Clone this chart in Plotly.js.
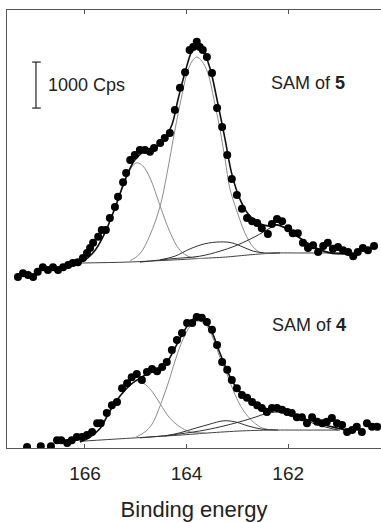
<!DOCTYPE html>
<html>
<head>
<meta charset="utf-8">
<script src="https://cdn.plot.ly/plotly-3.0.1.min.js"></script>
<style>html,body{margin:0;padding:0;background:#fff;}#chart{width:381px;height:523px;}</style>
</head>
<body>
<div id="chart"></div>
<script>
// ---------- measured data: SAM of 5 (upper, offset) ----------
const upperBE = [167.32,167.22,167.12,167.02,166.93,166.83,166.73,166.63,166.53,166.43,166.33,166.24,166.14,166.04,165.96,165.90,165.84,165.74,165.67,165.59,165.51,165.41,165.35,165.25,165.19,165.11,165.02,164.92,164.82,164.72,164.64,164.52,164.43,164.33,164.23,164.13,164.03,163.94,163.87,163.80,163.74,163.68,163.60,163.50,163.40,163.30,163.20,163.11,163.01,162.91,162.81,162.71,162.61,162.52,162.40,162.32,162.22,162.12,162.00,161.91,161.81,161.71,161.61,161.51,161.41,161.31,161.22,161.12,161.02,160.92,160.82,160.72,160.63,160.53,160.43,160.31];
const upperCps = [3720,3800,3760,3720,3830,3930,3870,3930,3870,3930,3980,4020,4040,4130,4240,4350,4460,4590,4740,4740,5000,5240,5460,5780,5980,6260,6370,6480,6480,6440,6520,6630,6740,6850,7350,7830,8170,8650,8720,8830,8720,8650,8500,8150,7390,6980,6370,5850,5500,5200,5000,4930,4890,4780,4650,4870,4980,4930,4780,4670,4670,4460,4350,4410,4260,4390,4460,4330,4370,4300,4260,4170,4260,4350,4300,4390];

// fit of SAM of 5
const upperFitBE  = [166.16,166.00,165.80,165.61,165.41,165.21,165.02,164.82,164.62,164.52,164.43,164.29,164.17,164.03,163.89,163.80,163.68,163.54,163.40,163.24,163.11,162.95,162.79,162.59,162.40,162.22,162.02,161.83,161.63,161.43,161.18,160.88];
const upperFitCps = [4020,4090,4300,4670,5220,5830,6260,6460,6540,6610,6720,7020,7570,8170,8650,8780,8650,8260,7570,6700,5960,5410,5090,4890,4830,4850,4760,4610,4460,4330,4240,4220];
const upperBaseBE  = [166.16,165.21,164.23,163.74,163.24,162.75,162.26,161.77,160.98];
const upperBaseCps = [4020,4040,4090,4120,4150,4200,4240,4240,4240];
const upperP1BE  = [166.16,166.00,165.80,165.61,165.41,165.21,165.09,164.98,164.86,164.72,164.52,164.33,164.13,163.93,163.64];
const upperP1Cps = [4020,4090,4300,4670,5200,5800,6090,6200,6130,5870,5260,4700,4300,4150,4120];
const upperP2BE  = [165.11,164.92,164.72,164.52,164.39,164.23,164.11,163.99,163.89,163.80,163.70,163.58,163.46,163.34,163.24,163.15,163.05,162.95,162.85,162.69,162.52,162.26];
const upperP2Cps = [4070,4220,4630,5260,5940,6910,7570,8150,8410,8500,8410,8150,7570,6910,6260,5650,5280,4960,4670,4370,4240,4240];
const upperP3BE  = [164.52,164.23,163.93,163.64,163.34,163.11,162.89,162.69,162.46,162.16];
const upperP3Cps = [4090,4170,4330,4440,4480,4460,4370,4280,4240,4240];
const upperP4BE  = [164.92,164.33,163.74,163.34,163.05,162.75,162.56,162.36,162.22,162.06,161.87,161.67,161.47,161.28,161.08,160.88];
const upperP4Cps = [4040,4110,4170,4280,4390,4540,4650,4780,4850,4780,4650,4500,4370,4280,4240,4240];

// ---------- measured data: SAM of 4 (lower) ----------
const lowerBE = [167.14,166.87,166.67,166.55,166.47,166.35,166.26,166.16,166.06,165.96,165.86,165.76,165.69,165.57,165.47,165.37,165.27,165.17,165.08,164.98,164.88,164.78,164.68,164.58,164.48,164.39,164.29,164.19,164.09,163.99,163.89,163.80,163.70,163.60,163.50,163.40,163.30,163.20,163.11,163.01,162.91,162.81,162.71,162.61,162.52,162.42,162.32,162.22,162.12,162.02,161.93,161.83,161.73,161.63,161.53,161.43,161.33,161.24,161.14,161.04,160.94,160.84,160.74,160.65,160.55,160.45,160.35,160.25];
const lowerCps = [20,40,40,170,170,110,170,240,240,280,350,540,540,760,930,1000,1300,1410,1540,1610,1480,1650,1720,1670,1760,1870,2130,2350,2500,2720,2720,2850,2830,2740,2570,2240,1870,1700,1480,1300,1150,1090,1000,930,870,780,870,870,830,780,760,670,670,540,670,570,540,570,650,540,500,350,390,460,350,540,460,460];

// fit of SAM of 4
const lowerFitBE  = [166.10,165.90,165.70,165.51,165.31,165.11,164.92,164.72,164.52,164.37,164.23,164.07,163.93,163.80,163.66,163.52,163.38,163.24,163.09,162.91,162.71,162.52,162.32,162.12,161.93,161.73,161.53,161.28,161.02,160.88];
const lowerFitCps = [130,240,430,800,1130,1370,1520,1630,1720,1890,2170,2500,2740,2850,2780,2570,2170,1780,1430,1170,1000,890,830,800,740,650,590,500,430,390];
const lowerBaseBE  = [166.04,165.31,164.72,164.13,163.54,162.95,162.36,161.77,160.98];
const lowerBaseCps = [150,200,240,280,330,370,390,390,390];
const lowerP1BE  = [166.04,165.86,165.70,165.51,165.31,165.11,164.96,164.80,164.66,164.52,164.33,164.13,163.93,163.64];
const lowerP1Cps = [150,260,430,800,1130,1370,1460,1370,1200,960,650,460,350,330];
const lowerP2BE  = [165.02,164.82,164.68,164.48,164.33,164.19,164.03,163.89,163.78,163.64,163.50,163.34,163.20,163.05,162.89,162.69,162.50,162.26];
const lowerP2Cps = [220,350,520,1040,1520,2020,2460,2700,2760,2700,2440,1960,1590,1170,830,570,430,390];
const lowerP3BE  = [164.43,164.13,163.83,163.54,163.28,163.05,162.79,162.52,162.20];
const lowerP3Cps = [260,330,430,520,590,570,480,410,390];
const lowerP4BE  = [164.92,164.33,163.74,163.34,162.95,162.65,162.46,162.26,162.06,161.87,161.67,161.47,161.28,161.02];
const lowerP4Cps = [220,280,370,460,570,670,740,780,760,700,610,520,460,390];

// ---------- labels ----------
const xTickVals = [166,164,162];
const xTickText = ['166','164','162'];
const xTitle = 'Binding energy';
const scaleLabel = '1000 Cps';
const scaleCps = 1000;
const labelUpper = 'SAM of <b>5</b>';
const labelLower = 'SAM of <b>4</b>';

const grayLine = {color:'#8c8c8c', width:1, shape:'spline', smoothing:1};
const darkLine = {color:'#303030', width:1, shape:'spline', smoothing:1};
const baseLine = {color:'#404040', width:1, shape:'spline', smoothing:0.6};
const envLine  = {color:'#111', width:1.6, shape:'spline', smoothing:1};

function ln(x, y, line){ return {x:x, y:y, type:'scatter', mode:'lines', line:line, hoverinfo:'skip', showlegend:false}; }
function dots(x, y){ return {x:x, y:y, type:'scatter', mode:'markers', marker:{color:'#000', size:8}, showlegend:false}; }

const traces = [
  ln(upperBaseBE, upperBaseCps, baseLine),
  ln(upperP1BE, upperP1Cps, grayLine),
  ln(upperP2BE, upperP2Cps, grayLine),
  ln(upperP3BE, upperP3Cps, darkLine),
  ln(upperP4BE, upperP4Cps, darkLine),
  ln(upperFitBE, upperFitCps, envLine),
  dots(upperBE, upperCps),
  ln(lowerBaseBE, lowerBaseCps, baseLine),
  ln(lowerP1BE, lowerP1Cps, grayLine),
  ln(lowerP2BE, lowerP2Cps, grayLine),
  ln(lowerP3BE, lowerP3Cps, darkLine),
  ln(lowerP4BE, lowerP4Cps, darkLine),
  ln(lowerFitBE, lowerFitCps, envLine),
  dots(lowerBE, lowerCps)
];

const barX = 166.965, barTop = 8390, barBot = barTop - scaleCps;

const layout = {
  width:381, height:523,
  margin:{l:7, r:0, t:10, b:75},
  paper_bgcolor:'#fff', plot_bgcolor:'#fff',
  font:{family:'"Liberation Sans", Arial, sans-serif', color:'#222'},
  xaxis:{
    range:[167.535, 160.173], autorange:false,
    tickvals:xTickVals, ticktext:xTickText,
    ticks:'inside', ticklen:4, tickcolor:'#555', tickwidth:1,
    showline:true, linecolor:'#555', linewidth:1, mirror:'ticks',
    showgrid:false, zeroline:false,
    tickfont:{size:19, color:'#222'}, ticklabelstandoff:8,
    title:{text:xTitle, font:{size:22, color:'#222'}, standoff:18}
  },
  yaxis:{
    range:[0, 9522], autorange:false,
    showticklabels:false, ticks:'',
    showline:true, linecolor:'#555', linewidth:1, mirror:false,
    showgrid:false, zeroline:false
  },
  shapes:[
    {type:'line', xref:'x', yref:'y', x0:barX, x1:barX, y0:barBot, y1:barTop, line:{color:'#222', width:1.2}},
    {type:'line', xref:'x', yref:'y', x0:167.04, x1:166.87, y0:barTop, y1:barTop, line:{color:'#222', width:1.2}},
    {type:'line', xref:'x', yref:'y', x0:167.04, x1:166.87, y0:barBot, y1:barBot, line:{color:'#222', width:1.2}}
  ],
  annotations:[
    {xref:'x', yref:'y', x:166.77, y:(barTop+barBot)/2, text:scaleLabel, showarrow:false, xanchor:'left', yanchor:'middle', font:{size:18, color:'#222'}},
    {xref:'x', yref:'y', x:162.38, y:7935, text:labelUpper, showarrow:false, xanchor:'left', yanchor:'middle', font:{size:18, color:'#222'}},
    {xref:'x', yref:'y', x:162.36, y:2674, text:labelLower, showarrow:false, xanchor:'left', yanchor:'middle', font:{size:18, color:'#222'}}
  ]
};

Plotly.newPlot('chart', traces, layout, {displayModeBar:false, staticPlot:true});
</script>
</body>
</html>
